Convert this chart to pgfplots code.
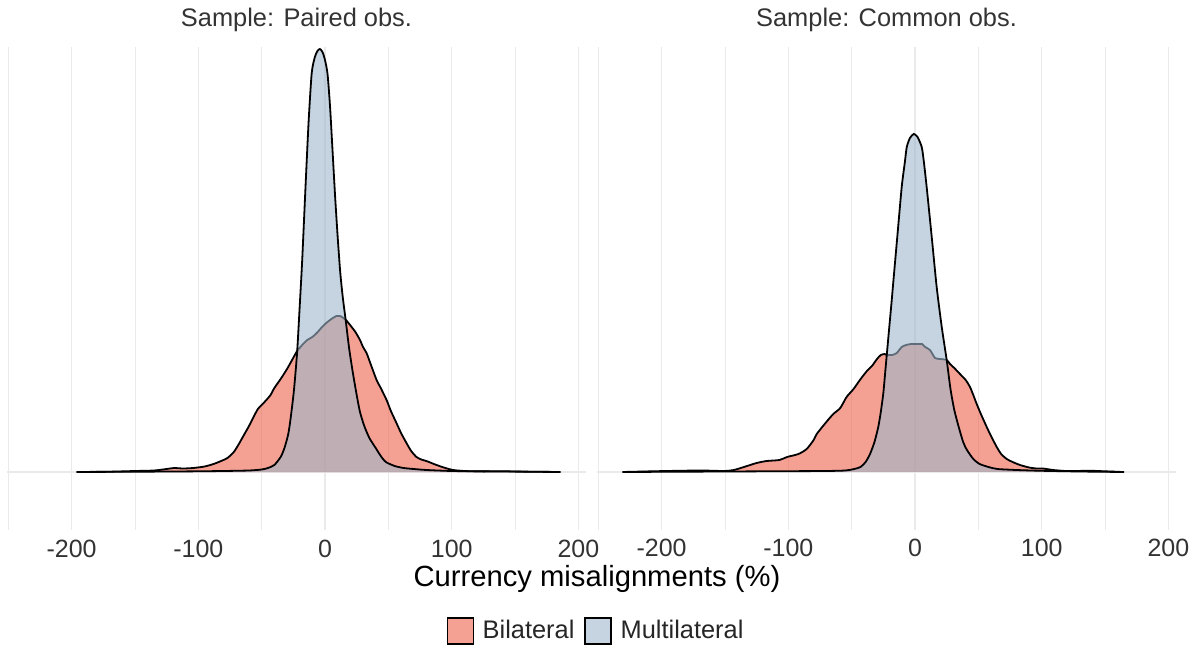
\documentclass[border=0pt]{standalone}
\usepackage{fontspec}
\setmainfont{Liberation Sans}
\usepackage{pgfplots}
\usepackage{pgfplotstable}
\pgfplotsset{compat=1.18}

\definecolor{bil}{RGB}{237,98,77}
\definecolor{mul}{RGB}{158,183,203}
\definecolor{gridc}{RGB}{234,234,234}

% density heights (arbitrary units, shared scale)
\pgfplotstableread{
x h
-196 0
-170 0.3
-150 1
-135 1.5
-125 3
-119 4
-112 3.5
-104 4
-95 5.5
-88 8
-82 11
-77 14
-72 20
-68 28
-64 37
-60 46
-56 56
-53 63
-50 67
-47 71
-43 77
-40 84
-35 93
-30 103
-26 112
-22 121
-18 127
-14 132
-10 135
-6.5 139
-3 144
1 149
5 153
9 156
12 156
16.5 152
21 145
24 140
27.6 132
30 125
32.8 119
36 108
40.7 92
44 84
48.6 72
52 61
56.4 49
60 39
64.3 29
68 21
72.2 15
76 12.5
80 11
84 9
88 7
95 4
101 2
110 1
120 0.6
140 0.8
150 0.5
186 0
}\bilpaired

\pgfplotstableread{
x h
-196 0
-150 0.3
-120 0.5
-100 0.7
-80 1
-60 1.5
-50 2.5
-45 4
-40 7
-35 15
-32 24
-29 38
-27 55
-24.5 82
-22 120
-20 165
-18 212
-15.5 282
-13 349
-10.5 399
-8 415
-6 421
-4 423
-2 420
0 412
2 398
4 365
6 320
8 275
10 235
12 200
14 175
16.5 150
19 124
22 99
25 77
27.6 60
31 46
35 34
40 24
44 16
48 10
55 6
62 4
70 3
80 2
100 1
120 0.7
150 0.4
185 0
}\mulpaired

\pgfplotstableread{
x h
-231 0
-196 1
-169 1.5
-151 1
-143 2
-135 5
-125 9
-117 11
-107 12
-101 15
-92 18
-85.5 23
-80 32
-77.6 38
-70 50
-64.5 58
-59 64
-54 75
-48.5 83
-43.5 92
-38 101
-34 106
-30 113
-27 117
-24 118
-22.3 117
-18 117
-14.4 119
-10.5 125
-7 127
-3 128
3 128
5.5 128
8 125
11.8 122
15.8 114
20 113
25 112
27.6 108
31 104
35.5 98
40 92
43.4 85
46 77
48.7 68
52 58
56.6 45
60 36
64.5 25
68 18
72.4 13
77 10
82.9 7
90 4.5
96 3.5
101 3.5
109 2
119 1
128 1
137 1.3
150 0.7
164 0
}\bilcommon

\pgfplotstableread{
x h
-230 0
-200 0.2
-150 0.5
-100 0.8
-70 1
-55 1.5
-48 3
-43 5
-39 10
-35.5 18
-32 30
-29 45
-27 60
-25 79
-23.5 100
-22.3 117
-20.3 145
-18.5 170
-17 192
-14 235
-10.5 285
-8 310
-6.5 325
-4 334
-1 338
2 335
5.3 325
7 310
9.2 285
13.2 235
17.1 185
21.1 145
25 112
28 83
31 62
34.5 45
38 30
41 22
46 13
51 8
58 5
65 3
80 2
100 1.2
130 0.5
165 0
}\mulcommon

\pgfplotsset{
  panel/.style={
    anchor=north west,
    scale only axis,
    width=289.5pt, height=241.5pt,
    xmin=-251, xmax=206, ymin=-58, ymax=425,
    axis line style={draw=none},
    tick style={draw=none},
    xtick={-200,-100,0,100,200},
    xticklabels={{-200},{-100},{0},{100},{200}},
    minor xtick={-250,-150,-50,50,150},
    ytick={0}, yticklabels={},
    xmajorgrids, xminorgrids, ymajorgrids,
    major grid style={gridc, line width=0.7pt},
    minor grid style={gridc, line width=0.4pt},
    xticklabel style={anchor=base, yshift=-13.5pt, text=black!80,
      font=\fontsize{12.5}{14}\selectfont},
    title style={at={(0.5,1)}, anchor=base, yshift=4pt, text=black!80,
      font=\fontsize{12.7}{15}\selectfont},
  },
  fillbil/.style={draw=none, fill=bil, fill opacity=0.6, smooth, tension=0.4},
  fillmul/.style={draw=none, fill=mul, fill opacity=0.6, smooth, tension=0.4},
  outline/.style={black, line width=0.9pt, smooth, tension=0.4},
}

\begin{document}
\begin{tikzpicture}
\useasboundingbox (0,0) rectangle (600pt,-328.5pt);

\begin{axis}[panel, at={(3.5pt,-23.5pt)},
  title={Sample: Paired obs.},
  legend columns=2,
  legend style={at={(1.019,-0.209)}, anchor=center, draw=none, fill=none,
    font=\fontsize{12.7}{15}\selectfont, text=black!85,
    /tikz/every odd column/.append style={column sep=2.5pt},
    /tikz/every even column/.append style={column sep=3pt}},
  legend image code/.code={\draw[#1, draw=black, line width=0.6pt]
    (0pt,-6.5pt) rectangle (13pt,6.5pt);},
]
\addplot[fillbil] table[x=x, y=h] {\bilpaired} \closedcycle;
\addlegendentry{Bilateral}
\addplot[outline, forget plot] table[x=x, y=h] {\bilpaired};
\addplot[fillmul] table[x=x, y=h] {\mulpaired} \closedcycle;
\addlegendentry{Multilateral}
\addplot[outline, forget plot] table[x=x, y=h] {\mulpaired};
\end{axis}

\begin{axis}[panel, at={(298.5pt,-23.5pt)},
  title={Sample: Common obs.},
]
\addplot[fillbil] table[x=x, y=h] {\bilcommon} \closedcycle;
\addplot[outline] table[x=x, y=h] {\bilcommon};
\addplot[fillmul] table[x=x, y=h] {\mulcommon} \closedcycle;
\addplot[outline] table[x=x, y=h] {\mulcommon};
\end{axis}

\node[anchor=base, font=\fontsize{14.6}{17}\selectfont, text=black]
  at (298.5pt,-293.5pt) {Currency misalignments (\%)};
\end{tikzpicture}
\end{document}
